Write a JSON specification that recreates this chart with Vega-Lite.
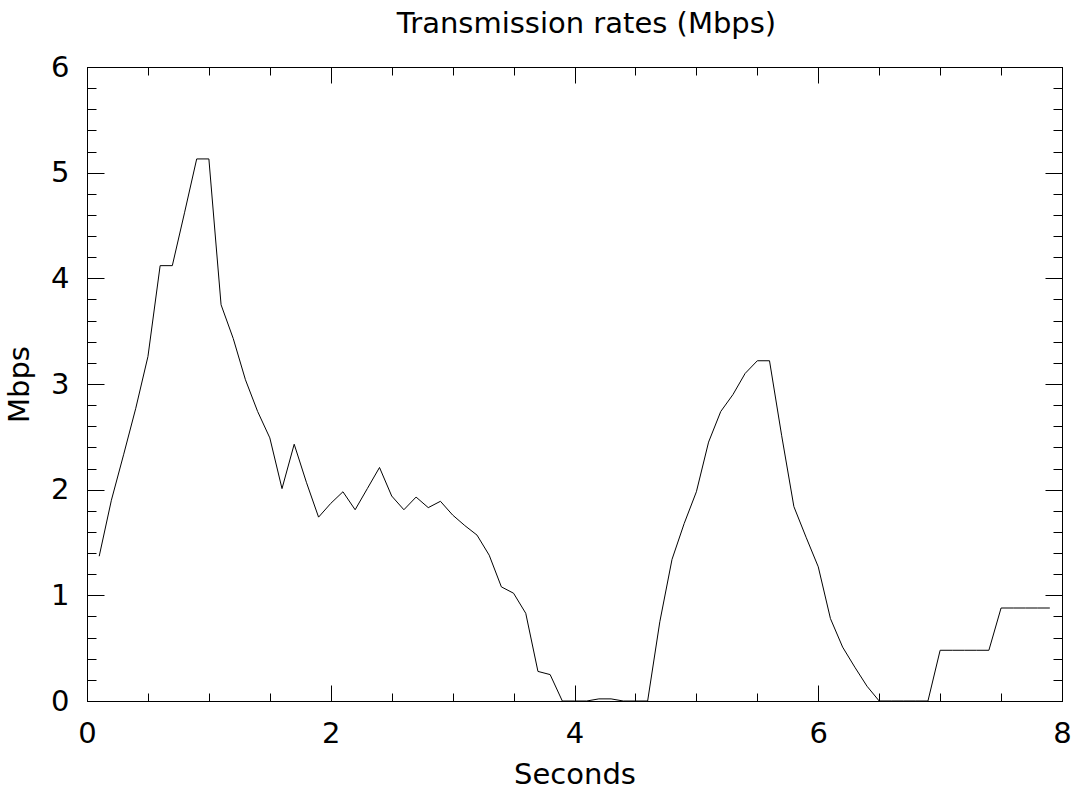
{
  "$schema": "https://vega.github.io/schema/vega-lite/v6.json",
  "width": 975,
  "height": 634,
  "autosize": "none",
  "padding": {"left": 87, "top": 67, "right": 11, "bottom": 92},
  "background": "white",
  "title": {"text": "Transmission rates (Mbps)", "font": "DejaVu Sans", "fontSize": 29, "fontWeight": "normal", "color": "black", "anchor": "middle", "offset": 14, "dx": 12},
  "config": {
    "view": {"stroke": "black", "strokeWidth": 1},
    "axis": {"grid": false, "domainColor": "black", "tickColor": "black", "labelColor": "black", "titleColor": "black", "labelFont": "DejaVu Sans", "titleFont": "DejaVu Sans", "labelFontSize": 29, "titleFontSize": 29, "titleFontWeight": "normal", "tickWidth": 1, "domainWidth": 1}
  },
  "data": {"values": [
    {"t": 0.1, "v": 1.37}, {"t": 0.2, "v": 1.90}, {"t": 0.3, "v": 2.33}, {"t": 0.4, "v": 2.77}, {"t": 0.5, "v": 3.26},
    {"t": 0.6, "v": 4.12}, {"t": 0.7, "v": 4.12}, {"t": 0.8, "v": 4.62}, {"t": 0.9, "v": 5.13}, {"t": 1.0, "v": 5.13},
    {"t": 1.1, "v": 3.75}, {"t": 1.2, "v": 3.43}, {"t": 1.3, "v": 3.04}, {"t": 1.4, "v": 2.74}, {"t": 1.5, "v": 2.49},
    {"t": 1.6, "v": 2.01}, {"t": 1.7, "v": 2.43}, {"t": 1.8, "v": 2.07}, {"t": 1.9, "v": 1.74}, {"t": 2.0, "v": 1.87},
    {"t": 2.1, "v": 1.98}, {"t": 2.2, "v": 1.81}, {"t": 2.3, "v": 2.01}, {"t": 2.4, "v": 2.21}, {"t": 2.5, "v": 1.94},
    {"t": 2.6, "v": 1.81}, {"t": 2.7, "v": 1.93}, {"t": 2.8, "v": 1.83}, {"t": 2.9, "v": 1.89}, {"t": 3.0, "v": 1.76},
    {"t": 3.1, "v": 1.66}, {"t": 3.2, "v": 1.57}, {"t": 3.3, "v": 1.38}, {"t": 3.4, "v": 1.08}, {"t": 3.5, "v": 1.02},
    {"t": 3.6, "v": 0.83}, {"t": 3.7, "v": 0.28}, {"t": 3.8, "v": 0.25}, {"t": 3.9, "v": 0.0}, {"t": 4.0, "v": 0.0},
    {"t": 4.1, "v": 0.0}, {"t": 4.2, "v": 0.02}, {"t": 4.3, "v": 0.02}, {"t": 4.4, "v": 0.0}, {"t": 4.5, "v": 0.0},
    {"t": 4.6, "v": 0.0}, {"t": 4.7, "v": 0.75}, {"t": 4.8, "v": 1.34}, {"t": 4.9, "v": 1.68}, {"t": 5.0, "v": 1.98},
    {"t": 5.1, "v": 2.45}, {"t": 5.2, "v": 2.74}, {"t": 5.3, "v": 2.90}, {"t": 5.4, "v": 3.10}, {"t": 5.5, "v": 3.22},
    {"t": 5.6, "v": 3.22}, {"t": 5.7, "v": 2.51}, {"t": 5.8, "v": 1.84}, {"t": 5.9, "v": 1.55}, {"t": 6.0, "v": 1.27},
    {"t": 6.1, "v": 0.78}, {"t": 6.2, "v": 0.51}, {"t": 6.3, "v": 0.32}, {"t": 6.4, "v": 0.14}, {"t": 6.5, "v": 0.0},
    {"t": 6.6, "v": 0.0}, {"t": 6.7, "v": 0.0}, {"t": 6.8, "v": 0.0}, {"t": 6.9, "v": 0.0}, {"t": 7.0, "v": 0.48},
    {"t": 7.1, "v": 0.48}, {"t": 7.2, "v": 0.48}, {"t": 7.3, "v": 0.48}, {"t": 7.4, "v": 0.48}, {"t": 7.5, "v": 0.88},
    {"t": 7.6, "v": 0.88}, {"t": 7.7, "v": 0.88}, {"t": 7.8, "v": 0.88}, {"t": 7.9, "v": 0.88}
  ]},
  "layer": [
    {
      "mark": {"type": "line", "color": "black", "strokeWidth": 1},
      "encoding": {
        "x": {"field": "t", "type": "quantitative", "scale": {"domain": [0, 8], "nice": false, "zero": false},
              "axis": {"orient": "bottom", "values": [0, 2, 4, 6, 8], "tickSize": -16, "labelPadding": 34, "title": "Seconds", "titlePadding": 12, "labelFlush": false}},
        "y": {"field": "v", "type": "quantitative", "scale": {"domain": [0, 6], "nice": false},
              "axis": {"orient": "left", "values": [0, 1, 2, 3, 4, 5, 6], "tickSize": -17, "labelPadding": 35, "title": "Mbps", "titlePadding": 16, "labelFlush": false}}
      }
    },
    {
      "mark": {"type": "line", "opacity": 0},
      "encoding": {
        "x": {"field": "t", "type": "quantitative",
              "axis": {"orient": "bottom", "values": [0.5, 1, 1.5, 2.5, 3, 3.5, 4.5, 5, 5.5, 6.5, 7, 7.5], "tickSize": -8, "labels": false, "title": null}},
        "y": {"field": "v", "type": "quantitative",
              "axis": {"orient": "left", "values": [0.2, 0.4, 0.6, 0.8, 1.2, 1.4, 1.6, 1.8, 2.2, 2.4, 2.6, 2.8, 3.2, 3.4, 3.6, 3.8, 4.2, 4.4, 4.6, 4.8, 5.2, 5.4, 5.6, 5.8], "tickSize": -9, "labels": false, "title": null}}
      }
    },
    {
      "mark": {"type": "line", "opacity": 0},
      "encoding": {
        "x": {"field": "t", "type": "quantitative",
              "axis": {"orient": "top", "values": [0, 2, 4, 6, 8], "tickSize": -16, "labels": false, "title": null}},
        "y": {"field": "v", "type": "quantitative",
              "axis": {"orient": "right", "values": [0, 1, 2, 3, 4, 5, 6], "tickSize": -17, "labels": false, "title": null}}
      }
    },
    {
      "mark": {"type": "line", "opacity": 0},
      "encoding": {
        "x": {"field": "t", "type": "quantitative",
              "axis": {"orient": "top", "values": [0.5, 1, 1.5, 2.5, 3, 3.5, 4.5, 5, 5.5, 6.5, 7, 7.5], "tickSize": -8, "labels": false, "title": null}},
        "y": {"field": "v", "type": "quantitative",
              "axis": {"orient": "right", "values": [0.2, 0.4, 0.6, 0.8, 1.2, 1.4, 1.6, 1.8, 2.2, 2.4, 2.6, 2.8, 3.2, 3.4, 3.6, 3.8, 4.2, 4.4, 4.6, 4.8, 5.2, 5.4, 5.6, 5.8], "tickSize": -9, "labels": false, "title": null}}
      }
    }
  ],
  "resolve": {"axis": {"x": "independent", "y": "independent"}}
}
